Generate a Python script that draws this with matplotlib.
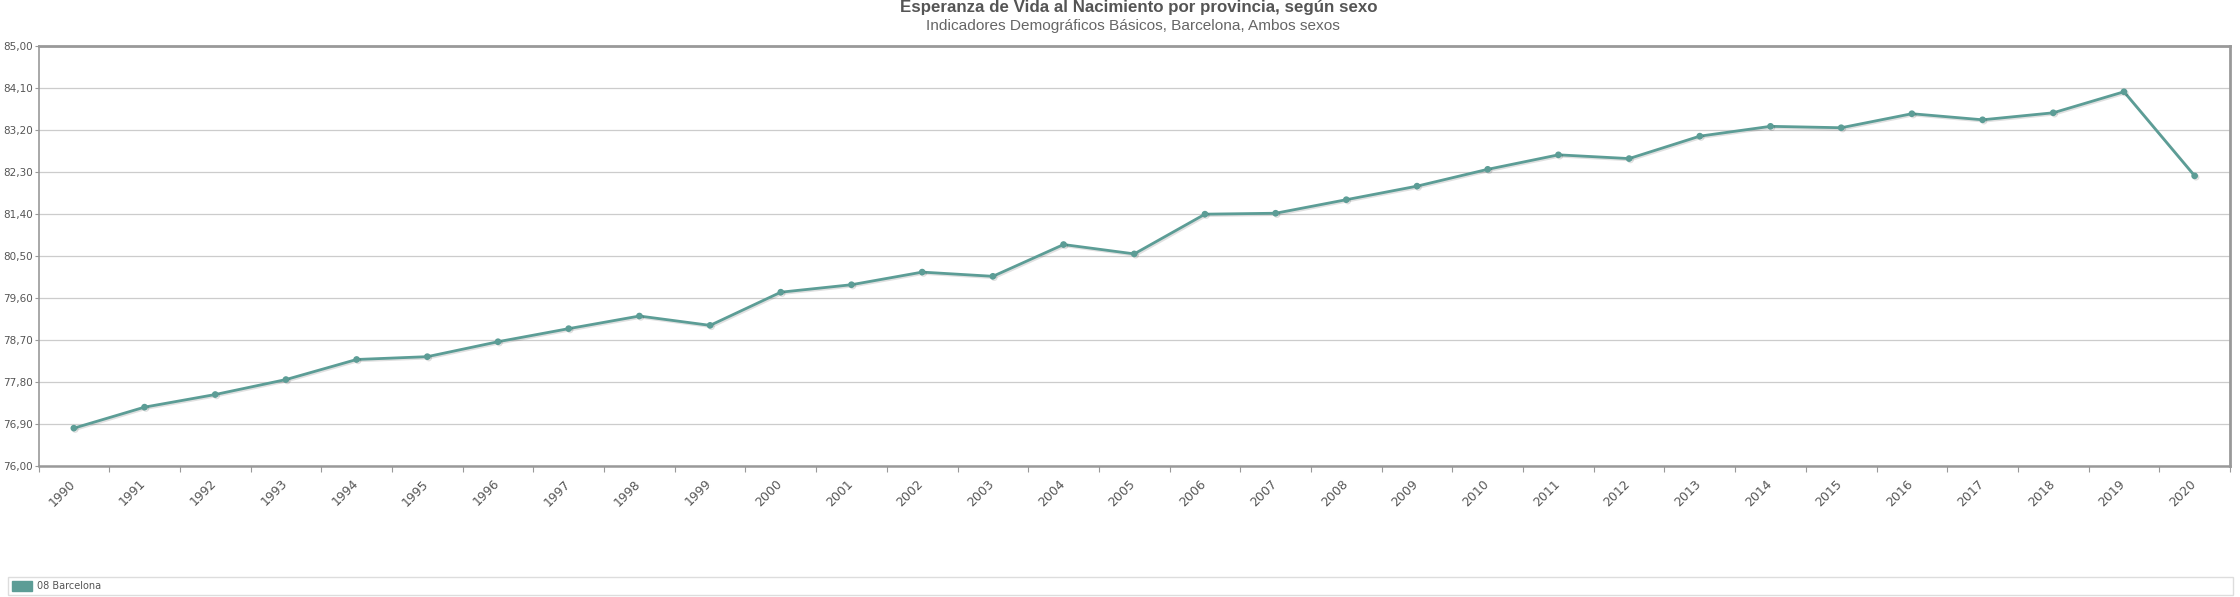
import matplotlib
matplotlib.use("Agg")
import matplotlib.pyplot as plt
import matplotlib.patheffects as pe
import matplotlib.transforms as mtransforms
from matplotlib.patches import Rectangle
import numpy as np

# data
years = [str(y) for y in range(1990, 2021)]
esperanza = [76.81, 77.26, 77.53, 77.85, 78.28, 78.34, 78.66, 78.94, 79.21, 79.01,
             79.72, 79.88, 80.15, 80.06, 80.74, 80.54, 81.39, 81.41, 81.70, 81.99,
             82.35, 82.66, 82.58, 83.06, 83.27, 83.24, 83.54, 83.41, 83.56, 84.01,
             82.21]
y_ticks = [76.00, 76.90, 77.80, 78.70, 79.60, 80.50, 81.40, 82.30, 83.20, 84.10, 85.00]
serie = "08 Barcelona"
titulo = "Esperanza de Vida al Nacimiento por provincia, según sexo"
subtitulo = "Indicadores Demográficos Básicos, Barcelona, Ambos sexos"

W, H = 2240, 597
color_linea = "#5c9d96"
gris = "#999999"

fig = plt.figure(figsize=(W / 100, H / 100), dpi=100)
ax = fig.add_axes([38.5 / W, 1 - 466 / H, (2230 - 38.5) / W, (466 - 45.5) / H])

x = np.arange(len(years))
ax.plot(x, esperanza, color=color_linea, lw=2.0, marker="o", ms=3.8,
        zorder=3, clip_on=False,
        path_effects=[pe.SimpleLineShadow(offset=(1, -1), shadow_color="k", alpha=0.12),
                      pe.Normal()])

ax.set_xlim(-0.5, len(years) - 0.5)
ax.set_ylim(y_ticks[0], y_ticks[-1])

# y axis
ax.set_yticks(y_ticks)
ax.set_yticklabels([f"{v:.2f}".replace(".", ",") for v in y_ticks])
ax.tick_params(axis="y", length=3, width=0.8, color=gris, pad=1,
               labelsize=7.5, labelcolor="#555555")
ax.grid(axis="y", color="#cccccc", lw=0.9)
ax.set_axisbelow(True)

# x axis: labels at band centres, tick marks at band edges
ax.set_xticks(x)
ax.set_xticklabels(years, rotation=45, ha="right", va="top")
ax.tick_params(axis="x", length=0, pad=8, labelsize=9, labelcolor="#555555")
shift = mtransforms.ScaledTranslation(4 / 100, 0, fig.dpi_scale_trans)
for lab in ax.get_xticklabels():
    lab.set_transform(lab.get_transform() + shift)
ax.set_xticks(np.arange(len(years) + 1) - 0.5, minor=True)
ax.tick_params(axis="x", which="minor", length=4, width=0.8, color=gris)

for lado, ancho in [("top", 2.0), ("left", 1.2), ("right", 2.0), ("bottom", 1.8)]:
    ax.spines[lado].set_color(gris)
    ax.spines[lado].set_linewidth(ancho)

# titles
fig.text(1139 / W, 1 - 0 / H, titulo, ha="center", va="top", fontsize=12.2,
         fontweight="bold", color="#555555", family="Liberation Sans")
fig.text(1133 / W, 1 - 19 / H, subtitulo, ha="center", va="top", fontsize=11.1,
         color="#666666", family="Liberation Sans")

# legend strip at the bottom
fig.patches.append(Rectangle((8 / W, 1 - 595 / H), (2233 - 8) / W, 18 / H,
                             transform=fig.transFigure, fill=False,
                             edgecolor="#dddddd", lw=1))
fig.patches.append(Rectangle((12 / W, 1 - 591 / H), 20 / W, 10 / H,
                             transform=fig.transFigure, color=color_linea))
fig.text(37 / W, 1 - 586 / H, serie, ha="left", va="center", fontsize=7,
         color="#555555")

fig.savefig("out.png", dpi=100)
